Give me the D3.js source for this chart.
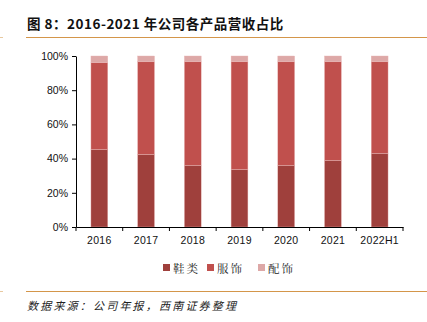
<!DOCTYPE html>
<html><head><meta charset="utf-8">
<script src="https://cdn.jsdelivr.net/npm/d3@7"></script>
<style>body{margin:0;background:#fff}svg{display:block}</style>
</head><body>
<svg id="c" width="427" height="322"></svg>
<script>
const categories = ["2016","2017","2018","2019","2020","2021","2022H1"];
const shoes = [45.4, 42.5, 36.1, 33.7, 36.1, 39.0, 43.1];
const apparel = [50.7, 54.1, 60.5, 62.9, 60.5, 57.6, 53.5];
const accessories = [3.9, 3.4, 3.4, 3.4, 3.4, 3.4, 3.4];
const seriesNames = ["鞋类","服饰","配饰"];
const yTicks = [0, 20, 40, 60, 80, 100];
const colors = ["#9F403C", "#C0504D", "#DDA8A7"];

const svg = d3.select("#c");
const x = d3.scaleBand().domain(categories).range([76, 403]).paddingInner(0.64).paddingOuter(0.32);
const y = d3.scaleLinear().domain([0, 100]).range([227, 56]);

// title
svg.append("text").attr("x", 27).attr("y", 29)
  .attr("font-family", "'Noto Sans CJK SC', sans-serif").attr("font-weight", "bold")
  .attr("font-size", 13.5).attr("letter-spacing", 0.5).attr("fill", "#111").text("图 8：2016-2021 年公司各产品营收占比");
svg.append("line").attr("x1", 26).attr("x2", 427).attr("y1", 37.5).attr("y2", 37.5)
  .attr("stroke", "#D4964A").attr("stroke-width", 1.2);
svg.append("line").attr("x1", 0).attr("x2", 3).attr("y1", 37.5).attr("y2", 37.5)
  .attr("stroke", "#E8C9A0").attr("stroke-width", 1);

// stacked bars
const rows = categories.map((c, i) => ({cat: c, 鞋类: shoes[i], 服饰: apparel[i], 配饰: accessories[i]}));
const stack = d3.stack().keys(seriesNames)(rows);
svg.append("g").selectAll("g").data(stack).join("g")
  .attr("fill", (d, i) => colors[i])
  .selectAll("rect").data(d => d).join("rect")
  .attr("x", d => x(d.data.cat))
  .attr("width", x.bandwidth())
  .attr("y", d => y(d[1]))
  .attr("height", d => y(d[0]) - y(d[1]))
  .attr("stroke", "#E9B5B3").attr("stroke-width", 0.4);

// y axis
const yAxis = d3.axisLeft(y).tickValues(yTicks).tickFormat(d => d + "%").tickSize(4).tickSizeOuter(0);
const gy = svg.append("g").attr("transform", "translate(76,0)").call(yAxis);
gy.selectAll("text").attr("font-family", "'Liberation Sans', Arial, sans-serif").attr("font-size", 10.5).attr("fill", "#111").attr("dx", "-1");
gy.selectAll("line, path").attr("stroke", "#000");

// x axis
const xAxis = d3.axisBottom(x).tickSize(0).tickSizeOuter(0);
const gx = svg.append("g").attr("transform", "translate(0,227)").call(xAxis);
gx.selectAll("text").attr("font-family", "'Liberation Sans', Arial, sans-serif").attr("font-size", 10.5).attr("letter-spacing", 0.3).attr("fill", "#111").attr("dy", "1.35em");
gx.selectAll("path").attr("stroke", "#000");
const bounds = d3.range(categories.length + 1).map(i => 76 + i * (327 / categories.length));
gx.selectAll(".sep").data(bounds).join("line").attr("class", "sep")
  .attr("x1", d => d).attr("x2", d => d).attr("y1", 0).attr("y2", 4).attr("stroke", "#000");

// legend
const legX = [163, 207, 258];
const lg = svg.append("g");
seriesNames.forEach((n, i) => {
  lg.append("rect").attr("x", legX[i]).attr("y", 264).attr("width", 7).attr("height", 7).attr("fill", colors[i]);
  lg.append("text").attr("x", legX[i] + 10).attr("y", 272.5)
    .attr("font-family", "'Noto Serif CJK SC','Noto Sans CJK SC', serif").attr("font-size", 11.5).attr("letter-spacing", 2).attr("fill", "#222").text(n);
});

// footer
svg.append("line").attr("x1", 26).attr("x2", 427).attr("y1", 291.5).attr("y2", 291.5)
  .attr("stroke", "#D4964A").attr("stroke-width", 1.2);
svg.append("line").attr("x1", 0).attr("x2", 3).attr("y1", 291.5).attr("y2", 291.5)
  .attr("stroke", "#E8C9A0").attr("stroke-width", 1);
svg.append("text").attr("x", 27).attr("y", 310)
  .attr("font-family", "'Noto Sans CJK SC', sans-serif").attr("font-style", "italic")
  .attr("font-size", 11).attr("letter-spacing", 2.2).attr("fill", "#222").text("数据来源：公司年报，西南证券整理");
</script>
</body></html>
